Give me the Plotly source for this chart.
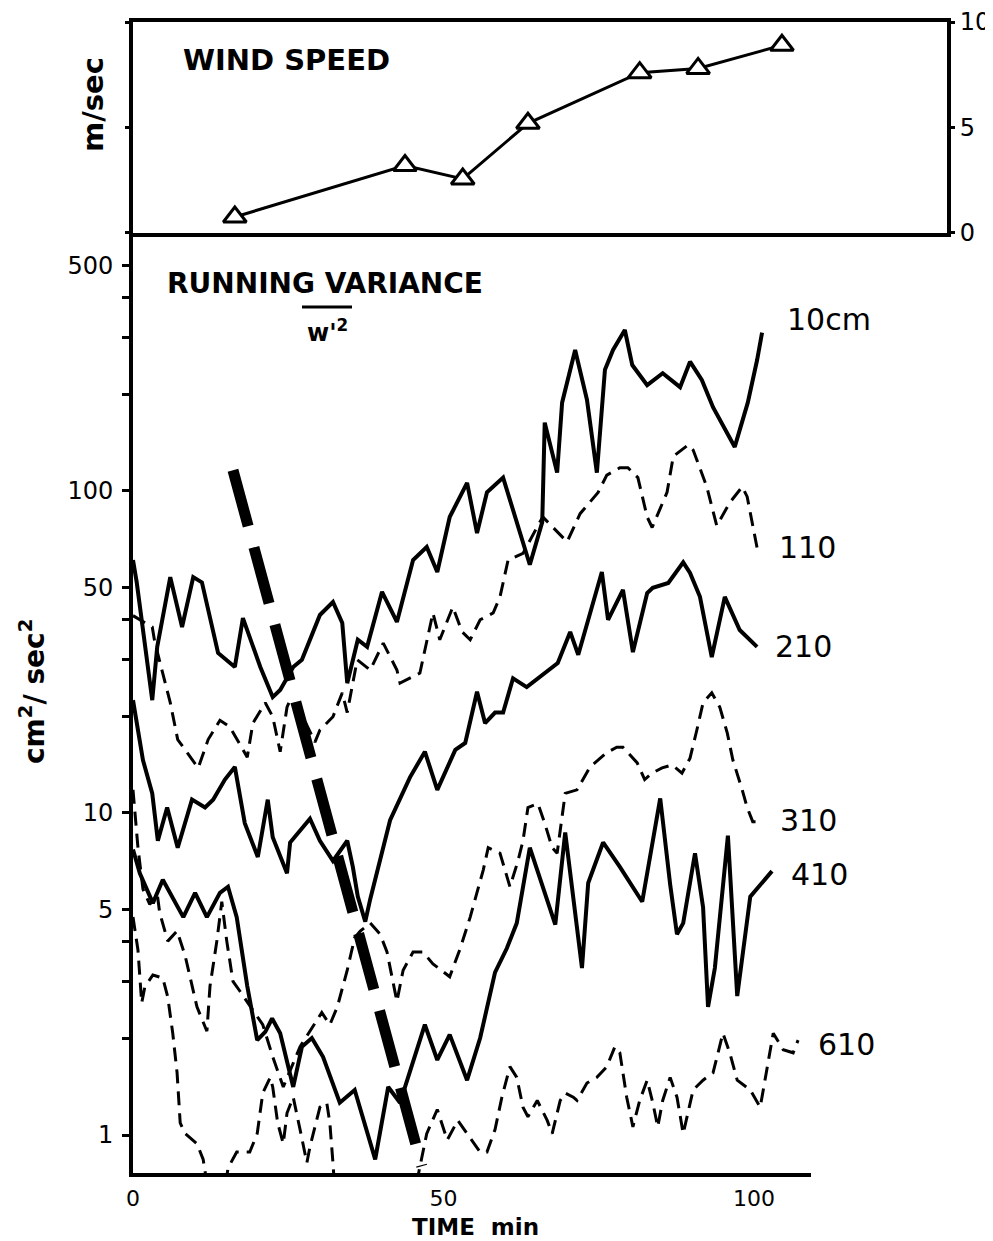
import plotly.graph_objects as go

# ---------------- data ----------------
WIND_T = [16.4, 43.8, 53.1, 63.6, 81.6, 91.0, 104.5]
WIND_V = [0.76, 3.2, 2.56, 5.2, 7.6, 7.8, 8.9]

T10 = [0, 0.6, 3.1, 3.9, 6.0, 7.9, 9.7, 11.1, 13.7, 16.4, 17.7, 20.5, 22.5, 23.7, 25.8, 27.2, 30.1, 32.2, 33.7, 34.5,
       36.2, 37.7, 40.1, 42.5, 45.1, 47.3, 49.0, 51.0, 53.8, 55.4, 57.0, 59.1, 59.6, 63.9, 65.9, 66.3, 68.3, 69.1, 71.2, 73.1,
       74.7, 76.0, 77.3, 79.2, 80.4, 82.8, 85.3, 88.1, 89.7, 91.6, 93.4, 96.9, 99.0, 100.5, 101.3]
V10 = [61, 52, 22.4, 32.8, 54, 37.8, 54, 52, 31.4, 28.4, 40.3, 28.4, 22.9, 24.1, 28.4, 29.9, 41.2, 45.2, 38.9, 25.3,
       34.5, 32.8, 48.6, 39.2, 61, 67, 56, 83, 106, 74, 99, 108, 110, 59, 80, 163, 114, 188, 274, 192,
       114, 238, 274, 316, 246, 213, 232, 210, 252, 221, 182, 137, 188, 255, 310]

T110 = [0, 3.1, 3.5, 4.7, 6.0, 7.2, 10.5, 12.1, 14.0, 15.6, 18.4, 19.3, 21.3, 22.5, 23.7, 24.8, 25.3, 26.6, 29.3, 30.1,
        32.2, 33.7, 34.5, 36.1, 38.2, 40.3, 42.5, 43.0, 46.2, 48.3, 49.4, 51.5, 53.0, 54.3, 55.9, 58.0, 59.1, 60.4, 62.8, 65.5,
        66.0, 69.9, 72.0, 74.9, 76.3, 78.4, 79.7, 81.3, 82.8, 83.6, 86.0, 87.0, 89.4, 90.2, 92.4, 94.0, 96.1, 98.1, 98.9, 100.5]
V110 = [41, 37.8, 34, 27.8, 22, 16.9, 13.8, 16.9, 19.4, 18.5, 14.9, 19.0, 22, 19.9, 15.5, 21.3, 22.4, 21.3, 16.6, 18.1,
        19.9, 23.6, 20.5, 29.9, 27.8, 33.7, 27.8, 25.3, 27.2, 41.8, 34.5, 43.6, 36.5, 34.5, 39.8, 41.8, 46.9, 61, 64, 80,
        83, 69.5, 85, 99, 112, 118, 118, 110, 83, 77, 99, 128, 139, 134, 103, 78, 92, 103, 96, 66.5]

T210 = [0, 1.6, 3.1, 4.0, 5.5, 7.2, 9.5, 11.6, 12.9, 14.8, 16.4, 18.0, 20.1, 21.7, 22.5, 24.8, 25.3, 28.5, 30.1, 32.2,
        34.5, 35.4, 36.2, 37.4, 38.2, 41.4, 44.6, 47.0, 49.0, 51.9, 53.5, 55.4, 56.7, 58.3, 59.6, 61.2, 63.4, 65.2, 68.4, 70.4,
        71.7, 75.5, 76.5, 78.9, 80.5, 82.8, 83.7, 86.2, 88.6, 89.7, 91.3, 93.2, 95.3, 97.7, 100.5]
V210 = [22.4, 14.6, 11.5, 8.2, 10.4, 7.8, 11.0, 10.4, 11.0, 12.7, 13.9, 9.3, 7.3, 11.0, 8.4, 6.5, 8.1, 9.6, 8.2, 7.1,
        8.2, 6.8, 5.5, 4.6, 5.4, 9.5, 12.9, 15.5, 11.8, 15.7, 16.5, 23.8, 19.0, 20.5, 20.5, 26.2, 24.6, 26.2, 29.2, 36.5,
        31.0, 56, 39.8, 49.3, 31.6, 48.2, 50, 51.8, 60, 55.6, 46.9, 30.5, 46.9, 37, 32.8]

T310 = [0, 0.8, 1.6, 2.7, 3.9, 4.3, 5.6, 7.1, 8.4, 10.3, 11.9, 12.4, 13.5, 14.3, 15.1, 16.1, 17.2, 20.9, 22.5, 24.2,
        26.9, 28.5, 30.4, 31.7, 32.9, 34.5, 35.7, 36.6, 38.2, 39.8, 40.9, 42.5, 43.5, 45.1, 46.7, 48.3, 51.0, 52.7, 54.3, 56.4,
        57.2, 59.1, 60.7, 62.0, 62.8, 63.6, 65.2, 66.3, 67.5, 68.3, 69.6, 71.5, 73.6, 76.3, 77.9, 78.9, 81.2, 82.4, 83.6, 85.2,
        86.8, 88.4, 89.7, 90.8, 91.8, 93.2, 94.5, 95.7, 96.6, 98.1, 98.9, 99.8, 101.3]
V310 = [11.8, 7.8, 5.8, 5.2, 5.6, 4.9, 4.0, 4.3, 3.6, 2.5, 2.1, 2.9, 4.0, 5.3, 4.0, 3.0, 2.8, 2.2, 1.75, 1.41,
        1.88, 2.1, 2.4, 2.2, 2.5, 3.25, 4.1, 4.3, 4.55, 4.2, 3.7, 2.6, 3.25, 3.7, 3.7, 3.4, 3.1, 3.8, 4.75, 6.65,
        7.8, 7.5, 5.9, 7.1, 8.2, 10.4, 10.7, 9.3, 7.8, 7.5, 11.5, 11.8, 13.9, 15.4, 16.0, 16.0, 14.3, 12.7, 13.3, 13.8,
        14.1, 13.3, 14.8, 18.1, 22, 23.6, 21.3, 17.7, 14.6, 11.8, 10.4, 9.4, 9.4]

T410 = [0, 1.1, 3.2, 4.8, 8.1, 10.0, 11.9, 14.0, 15.3, 16.7, 18.4, 20.0, 21.3, 22.4, 23.7, 25.8, 27.2, 28.8, 30.6, 33.3,
        35.7, 39.0, 41.1, 43.0, 47.0, 49.0, 51.0, 53.8, 55.9, 58.3, 60.2, 61.8, 63.9, 68.0, 69.6, 72.3, 73.3, 75.7, 78.4, 82.0,
        84.9, 86.5, 87.6, 88.6, 90.5, 91.8, 92.6, 93.7, 95.8, 97.3, 99.4, 102.9]
V410 = [7.7, 6.5, 5.25, 6.2, 4.75, 5.65, 4.75, 5.65, 5.9, 4.75, 2.9, 1.97, 2.09, 2.3, 2.07, 1.41, 1.88, 2.0, 1.75, 1.26,
        1.38, 0.84, 1.41, 1.26, 2.2, 1.71, 2.05, 1.48, 2.0, 3.2, 3.8, 4.55, 7.8, 4.5, 8.7, 3.3, 6.06, 8.1, 6.8, 5.3,
        11.1, 6.0, 4.2, 4.55, 7.5, 5.1, 2.5, 3.3, 8.5, 2.7, 5.5, 6.6]

T610 = [0, 0.8, 1.4, 1.9, 3.2, 4.8, 5.6, 6.4, 7.1, 7.6, 8.4, 10.3, 11.3, 12.1, 14.8, 15.3, 16.7, 18.8, 20.0, 20.9,
        22.1, 22.5, 23.3, 24.2, 24.8, 25.8, 26.9, 28.0, 28.5, 30.1, 31.2, 31.7, 32.2, 32.5, 45.4, 46.2, 47.3, 49.0, 50.6, 52.3,
        53.8, 55.9, 57.0, 58.3, 59.4, 60.7, 61.8, 62.8, 63.6, 65.1, 66.7, 67.5, 68.8, 69.6, 70.9, 71.5, 73.1, 74.7, 76.3, 77.6,
        78.4, 79.5, 80.5, 81.6, 82.8, 83.7, 84.5, 85.3, 86.5, 87.6, 88.6, 89.2, 90.2, 91.8, 93.4, 95.0, 96.1, 97.3, 99.4, 101.0,
        101.4, 102.6, 103.1, 104.7, 106.3, 107.1]
V610 = [4.75, 3.75, 2.57, 2.88, 3.14, 3.07, 2.68, 2.07, 1.56, 1.09, 1.01, 0.94, 0.84, 0.67, 0.67, 0.79, 0.885, 0.885, 1.01, 1.35,
        1.51, 1.41, 1.09, 0.94, 1.17, 1.31, 1.04, 0.82, 0.92, 1.22, 1.26, 1.09, 0.82, 0.67, 0.67, 0.80, 1.01, 1.20, 0.965, 1.11,
        1.01, 0.885, 0.885, 1.04, 1.31, 1.63, 1.51, 1.22, 1.14, 1.28, 1.11, 1.01, 1.28, 1.35, 1.31, 1.28, 1.45, 1.51, 1.63, 1.88,
        1.80, 1.31, 1.06, 1.28, 1.48, 1.26, 1.06, 1.28, 1.51, 1.31, 1.01, 1.14, 1.38, 1.48, 1.56, 2.07, 1.80, 1.48, 1.38, 1.22,
        1.35, 1.80, 2.07, 1.84, 1.80, 1.97]

TREND_T = [16.1, 46.5]
TREND_V = [116, 0.80]

SERIES = [("10cm", T10, V10, "solid"), ("110", T110, V110, "dash"), ("210", T210, V210, "solid"),
          ("310", T310, V310, "dash"), ("410", T410, V410, "solid"), ("610", T610, V610, "dash")]

LOG_MAJOR = [1, 5, 10, 50, 100, 500]
LOG_MINOR = [2, 3, 4, 20, 30, 40, 200, 300, 400]
TIME_TICKS = [0, 50, 100]
WIND_TICKS = [0, 5, 10]

# ---------------- figure ----------------
# the page body has an 8px margin, so the figure is drawn 8px in from the top-left corner
OFF = 8
W, H = 993 - OFF, 1241 - OFF
FONT = "DejaVu Sans"


def px(x):
    return (x - OFF) / W


def py(y):
    return 1 - (y - OFF) / H


fig = go.Figure()
for name, t, v, style in SERIES:
    fig.add_trace(go.Scatter(
        x=t, y=v, mode="lines", name=name, xaxis="x", yaxis="y", hoverinfo="skip",
        line=dict(color="black", width=4 if style == "solid" else 3,
                  dash="solid" if style == "solid" else "14px,8px")))

fig.add_trace(go.Scatter(x=TREND_T, y=TREND_V, mode="lines", xaxis="x", yaxis="y", hoverinfo="skip",
                         line=dict(color="black", width=11, dash="58px,22px")))

fig.add_trace(go.Scatter(x=WIND_T, y=WIND_V, mode="lines+markers", xaxis="x2", yaxis="y2", hoverinfo="skip",
                         cliponaxis=False,
                         line=dict(color="black", width=3),
                         marker=dict(symbol="triangle-up", size=20, color="white",
                                     line=dict(color="black", width=3))))

axis_common = dict(showgrid=False, zeroline=False, linecolor="black", linewidth=4, automargin=False,
                   ticklabeloverflow="allow",
                   tickcolor="black", tickfont=dict(family=FONT, size=24, color="black"))

fig.update_layout(
    template="none",
    width=W, height=H, margin=dict(l=0, r=0, t=0, b=0, pad=0), autosize=False,
    paper_bgcolor="white", plot_bgcolor="white", showlegend=False,
    xaxis=dict(domain=[px(133), px(811)], range=[0, 109.18], anchor="y", showline=True,
               tickvals=TIME_TICKS, ticks="", ticklabelstandoff=3,
               **{**axis_common, "tickfont": dict(family=FONT, size=22, color="black")}),
    yaxis=dict(domain=[py(1173), py(233)], type="log", range=[-0.118, 2.801], anchor="x",
               showline=True, ticks="outside", ticklen=7, tickwidth=3,
               tickvals=LOG_MAJOR, ticktext=[str(v) for v in LOG_MAJOR], ticklabelstandoff=4,
               minor=dict(tickvals=LOG_MINOR, ticks="outside", ticklen=7, tickwidth=3, tickcolor="black",
                          showgrid=False),
               **axis_common),
    xaxis2=dict(domain=[px(133), px(947)], range=[0, 131.08], anchor="y2", showline=True, mirror=True,
                showticklabels=False, ticks="", **axis_common),
    yaxis2=dict(domain=[py(233), py(22)], range=[-0.0005, 10.0005], anchor="x2", side="right", showline=True,
                mirror="ticks", ticks="outside", ticklen=4, tickwidth=3, tickvals=WIND_TICKS,
                ticklabelstandoff=0,
                **{**axis_common, "tickfont": dict(family=FONT, size=24, color="black")}),
)

ann = []


def add_text(text, x, y, size, bold=False, angle=0, xanchor="center"):
    ann.append(dict(text=text, x=px(x), y=py(y), xref="paper", yref="paper", showarrow=False,
                    xanchor=xanchor, yanchor="middle", textangle=angle,
                    font=dict(family=FONT, size=size, color="black", weight="bold" if bold else "normal")))


add_text("WIND SPEED", 286, 60, 29, bold=True)
add_text("m/sec", 93, 105, 29, bold=True, angle=-90)
add_text("RUNNING VARIANCE", 165, 284, 28, bold=True, xanchor="left")
add_text("w'<sup>2</sup>", 327, 331, 24, bold=True)
add_text("cm<sup>2</sup>/ sec<sup>2</sup>", 32, 692, 28, bold=True, angle=-90)
add_text("TIME  min", 475, 1227, 23, bold=True)
add_text("10cm", 829, 319, 30)
add_text("110", 807, 547, 30)
add_text("210", 803, 646, 30)
add_text("310", 808, 820, 30)
add_text("410", 819, 874, 30)
add_text("610", 846, 1044, 30)

fig.update_layout(annotations=ann)
fig.add_shape(type="line", xref="paper", yref="paper", x0=px(302), x1=px(352), y0=py(307), y1=py(307),
              line=dict(color="black", width=3))

fig.write_html("out.html")
